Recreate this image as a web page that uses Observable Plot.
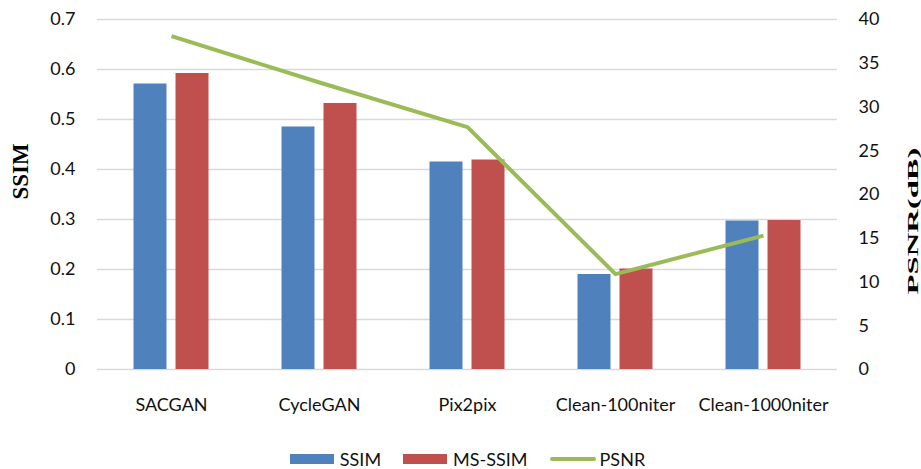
<!DOCTYPE html>
<html>
<head>
<meta charset="utf-8">
<script src="https://cdn.jsdelivr.net/npm/d3@7"></script>
<script src="https://cdn.jsdelivr.net/npm/@observablehq/plot@0.6"></script>
<style>
  html, body { margin: 0; padding: 0; background: #fff; }
  #wrap { position: relative; width: 921px; height: 469px; }
  #legend { position: absolute; left: 0; top: 448px; width: 921px; height: 22px;
    display: flex; justify-content: center; align-items: center; padding-left: 14px; box-sizing: border-box;
    font-family: Lato, "Open Sans", sans-serif; font-size: 18px; line-height: 20px; color: #111; }
  .item { display: flex; align-items: center; margin: 0 11px; }
  .sw { width: 44px; height: 10px; margin-right: 6px; }
  .ln { width: 46px; height: 4px; margin-right: 4px; border-radius: 2px; }
</style>
</head>
<body>
<div id="wrap"><div id="chart"></div><div id="legend"></div></div>
<script>
const categories = ["SACGAN", "CycleGAN", "Pix2pix", "Clean-100niter", "Clean-1000niter"];
const ssim = [0.571, 0.485, 0.415, 0.190, 0.297];
const msssim = [0.592, 0.532, 0.419, 0.201, 0.298];
const psnr = [38.1, 32.8, 27.7, 10.9, 15.3];
const ssimTicks = [0, 0.1, 0.2, 0.3, 0.4, 0.5, 0.6, 0.7];
const psnrTicks = [0, 5, 10, 15, 20, 25, 30, 35, 40];
const seriesNames = ["SSIM", "MS-SSIM", "PSNR"];
const axisTitles = ["SSIM", "PSNR(dB)"];
const colors = ["#4f81bd", "#c0504d", "#9bbb59"];

const ssimMax = 0.7, psnrMax = 40;
const toLeft = v => v * ssimMax / psnrMax;

const rows = categories.map((c, i) => ({cat: c, ssim: ssim[i], ms: msssim[i], psnr: psnr[i]}));

const plot = Plot.plot({
  width: 921,
  height: 445,
  marginTop: 19,
  marginBottom: 76,
  marginLeft: 97,
  marginRight: 84,
  style: {fontFamily: "Lato, 'Open Sans', sans-serif", fontSize: "18px", color: "#111", background: "#fff", overflow: "visible"},
  x: {domain: categories, padding: 0, axis: null},
  y: {domain: [0, ssimMax], axis: null},
  marks: [
    Plot.gridY(ssimTicks, {stroke: "#d9d9d9", strokeOpacity: 1, strokeWidth: 1.5}),
    Plot.barY(rows, {x: "cat", y: "ssim", fill: colors[0], insetLeft: 57.5, insetRight: 57.5, dx: -21}),
    Plot.barY(rows, {x: "cat", y: "ms", fill: colors[1], insetLeft: 57.5, insetRight: 57.5, dx: 21}),
    Plot.line(rows, {x: "cat", y: d => toLeft(d.psnr), stroke: colors[2], strokeWidth: 4, strokeLinejoin: "round", strokeLinecap: "butt"}),
    Plot.axisY({ticks: ssimTicks, tickSize: 0, tickPadding: 22, tickFormat: d => d === 0 ? "0" : d.toFixed(1), label: null}),
    Plot.axisY({anchor: "right", ticks: psnrTicks.map(toLeft), tickSize: 0, tickPadding: 21,
      tickFormat: (d, i) => String(psnrTicks[i]), label: null}),
    Plot.axisX({tickSize: 0, tickPadding: 29, label: null}),
    Plot.text([axisTitles[0]], {frameAnchor: "left", dx: -77, dy: 5, rotate: -90, fontWeight: "bold",
      fontFamily: "'Liberation Serif', 'DejaVu Serif', serif", fontSize: 23, fill: "#000"})
  ]
});

document.getElementById("chart").appendChild(plot);

// Right axis title: bold serif, stretched along its length as in the reference
const yr = plot.scale("y").range;
const midY = (yr[0] + yr[1]) / 2;
const rt = d3.select(plot).append("text")
  .attr("text-anchor", "middle")
  .attr("dominant-baseline", "central")
  .attr("font-family", "'Liberation Serif', 'DejaVu Serif', serif")
  .attr("font-weight", "bold")
  .attr("font-size", 15)
  .attr("fill", "#000")
  .text(axisTitles[1]);
const natural = rt.node().getComputedTextLength() || 68;
const sx = 147 / natural;
rt.attr("transform", `translate(913,${midY + 27}) rotate(-90) scale(${sx},1)`);

const legend = d3.select("#legend");
seriesNames.forEach((name, i) => {
  const it = legend.append("div").attr("class", "item");
  it.append("div").attr("class", i === 2 ? "ln" : "sw").style("background", colors[i]);
  it.append("span").text(name);
});
</script>
</body>
</html>
